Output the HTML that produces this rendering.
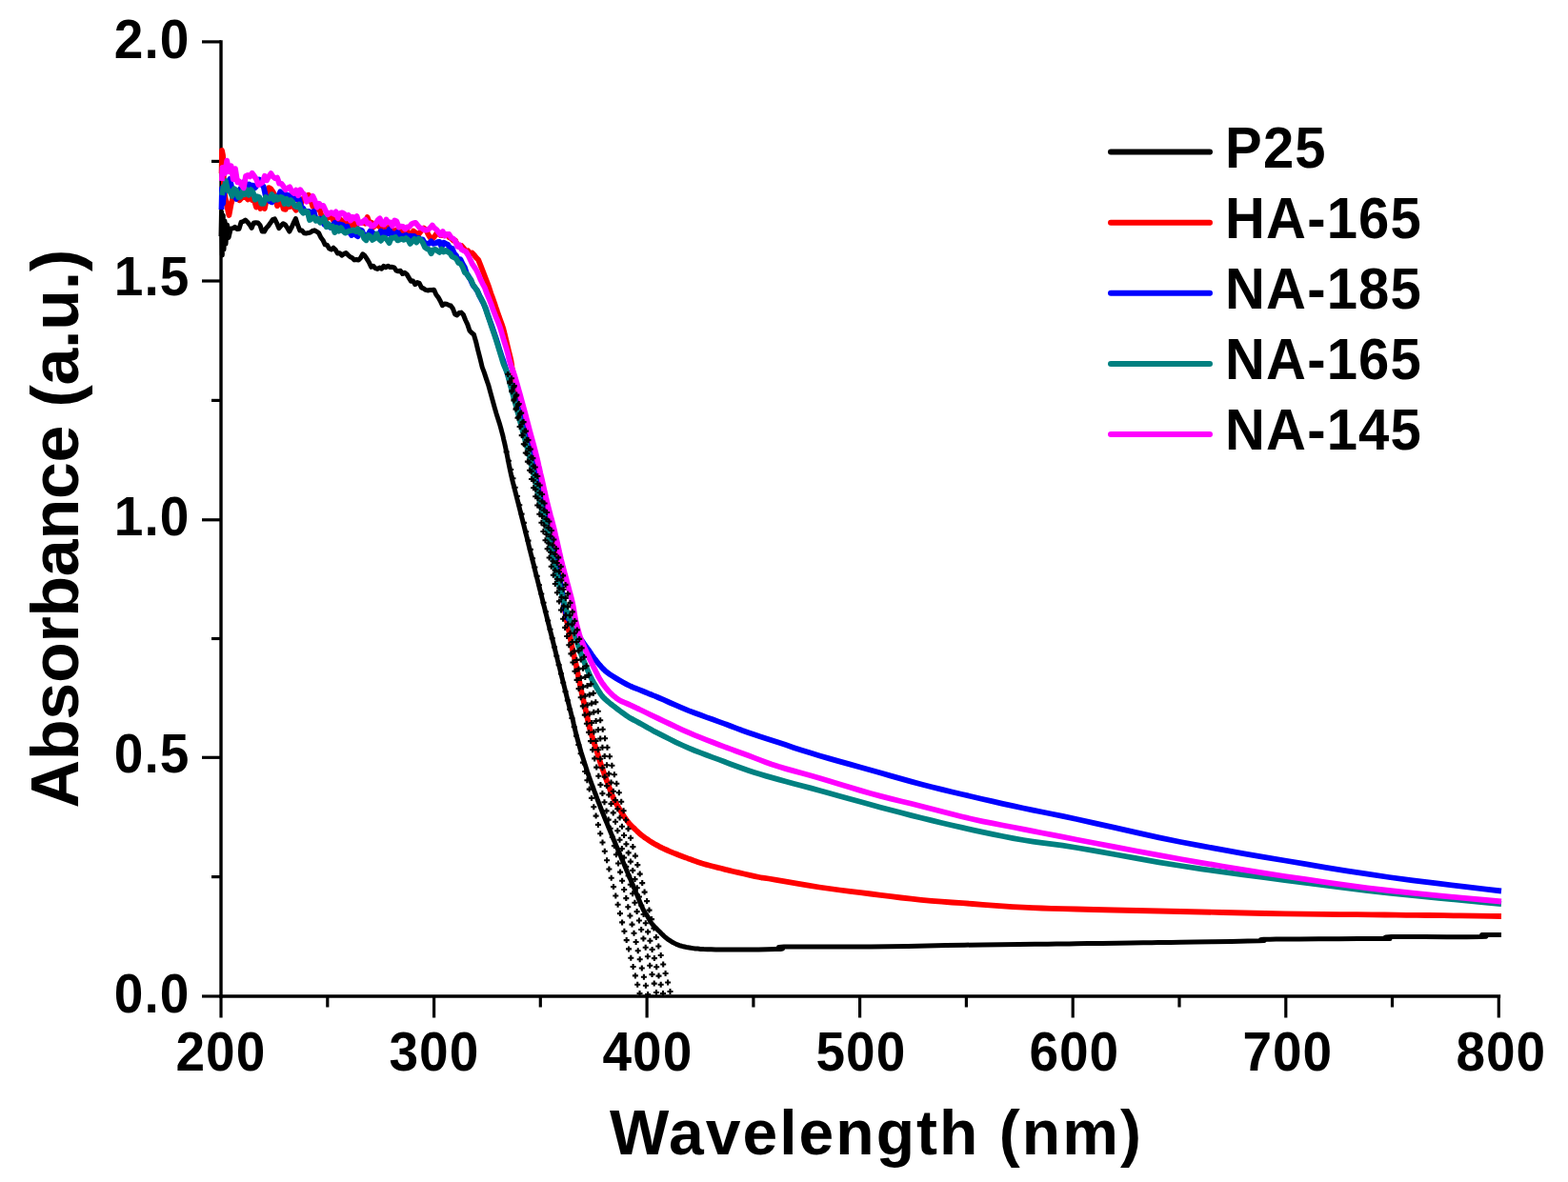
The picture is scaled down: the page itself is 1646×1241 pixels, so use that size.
<!DOCTYPE html>
<html><head><meta charset="utf-8"><title>Absorbance spectra</title>
<style>
html,body{margin:0;padding:0;background:#fff;}
body{width:1646px;height:1241px;overflow:hidden;}
svg{display:block;}
text{font-family:"Liberation Sans",Arial,sans-serif;font-weight:bold;fill:#000;}
.tk{font-size:55px;letter-spacing:1px;}
.lg{font-size:58px;letter-spacing:1.2px;}
.xl{font-size:66px;letter-spacing:2.05px;}
.yl{font-size:70px;letter-spacing:-0.28px;}
</style></head><body>
<svg width="1646" height="1241" viewBox="0 0 1646 1241">
<rect width="1646" height="1241" fill="#ffffff"/>
<line x1="232" y1="42.2" x2="232" y2="1047.7" stroke="#000" stroke-width="3.4"/>
<line x1="230.3" y1="1046" x2="1575.2" y2="1046" stroke="#000" stroke-width="3.4"/>
<line x1="212" y1="1046" x2="232" y2="1046" stroke="#000" stroke-width="3.2"/>
<line x1="212" y1="795.3" x2="232" y2="795.3" stroke="#000" stroke-width="3.2"/>
<line x1="212" y1="545.8" x2="232" y2="545.8" stroke="#000" stroke-width="3.2"/>
<line x1="212" y1="295" x2="232" y2="295" stroke="#000" stroke-width="3.2"/>
<line x1="212" y1="43.9" x2="232" y2="43.9" stroke="#000" stroke-width="3.2"/>
<line x1="222" y1="920.6" x2="232" y2="920.6" stroke="#000" stroke-width="3.2"/>
<line x1="222" y1="670.5" x2="232" y2="670.5" stroke="#000" stroke-width="3.2"/>
<line x1="222" y1="420.4" x2="232" y2="420.4" stroke="#000" stroke-width="3.2"/>
<line x1="222" y1="169.4" x2="232" y2="169.4" stroke="#000" stroke-width="3.2"/>
<line x1="232" y1="1046" x2="232" y2="1068.5" stroke="#000" stroke-width="3.2"/>
<line x1="455.6" y1="1046" x2="455.6" y2="1068.5" stroke="#000" stroke-width="3.2"/>
<line x1="679.1" y1="1046" x2="679.1" y2="1068.5" stroke="#000" stroke-width="3.2"/>
<line x1="902.6" y1="1046" x2="902.6" y2="1068.5" stroke="#000" stroke-width="3.2"/>
<line x1="1126.2" y1="1046" x2="1126.2" y2="1068.5" stroke="#000" stroke-width="3.2"/>
<line x1="1349.8" y1="1046" x2="1349.8" y2="1068.5" stroke="#000" stroke-width="3.2"/>
<line x1="1573.3" y1="1046" x2="1573.3" y2="1068.5" stroke="#000" stroke-width="3.2"/>
<line x1="343.8" y1="1046" x2="343.8" y2="1057.5" stroke="#000" stroke-width="3.2"/>
<line x1="567.3" y1="1046" x2="567.3" y2="1057.5" stroke="#000" stroke-width="3.2"/>
<line x1="790.9" y1="1046" x2="790.9" y2="1057.5" stroke="#000" stroke-width="3.2"/>
<line x1="1014.4" y1="1046" x2="1014.4" y2="1057.5" stroke="#000" stroke-width="3.2"/>
<line x1="1238" y1="1046" x2="1238" y2="1057.5" stroke="#000" stroke-width="3.2"/>
<line x1="1461.5" y1="1046" x2="1461.5" y2="1057.5" stroke="#000" stroke-width="3.2"/>
<polyline fill="none" stroke="#000000" stroke-width="5.0" stroke-linejoin="round" stroke-linecap="butt" points="232,248 232.5,222 233.3,268 234.2,226 235,262 236,232 237,256 238.5,236 240,249.5 242.2,240.1 244.4,239.8 246.6,238.3 248.8,240.6 251,240.2 253.2,233.1 255.4,232.6 257.6,231 259.8,233.2 262,235.8 264.2,239.4 266.4,233.9 268.6,233.7 270.8,234 273,236.4 275.2,242.9 277.4,243.1 279.6,239.4 281.8,237 284,233.8 286.2,230.7 288.4,229.9 290.6,234.3 292.8,239.6 295,237.1 297.2,234.8 299.4,236 301.6,239.2 303.8,243.1 306,238.9 308.2,233.9 310.4,229.6 312.6,236.4 314.8,242 317,242 319.2,244.7 321.4,244.9 323.6,244.6 325.8,244.1 328,242.4 330.2,241.8 332.4,243.2 334.6,244.6 336.8,249.3 339,252.2 341.2,256.8 343.4,257.2 345.6,261 347.8,261.9 350,260.2 352.2,262.3 354.4,266.1 356.6,265.7 358.8,268.1 361,266.6 363.2,265.6 365.4,267.8 367.6,269.7 369.8,270.7 372,272.9 374.2,272.5 376.4,273.1 378.6,270.8 380.8,266.8 383,268.5 385.2,271.9 387.4,275.5 389.6,280.3 391.8,279.2 394,281.7 396.2,282.4 398.4,281 400.6,282.2 402.8,279.4 405,280.8 407.2,279.2 409.4,280.6 411.6,280.3 413.8,280.9 416,284.2 418.2,284.8 420.4,284.3 422.6,287.5 424.8,286.2 427,287.9 429.2,291.6 431.4,295.3 433.6,295 435.8,298.7 438,296.5 440.2,297.4 442.4,301.9 444.6,302.9 446.8,304.3 449,304.9 451.2,304.6 453.4,304.6 455.6,304.3 457.8,309.3 460,312.1 462.2,316 464.4,320.7 466.6,318.9 468.8,319.3 471,320.3 473.2,321 475.4,324 477.6,329.9 479.8,330.9 482,328.5 484.2,328.1 486.4,330.5 488.6,336 490.8,340.6 493,347.2 495.2,349.5 497.4,351.3 499.6,358.7 501.8,367.8 504,376.4 506.2,385.5 508.4,391.4 510.6,398.1 512.8,404.5 515,412.6 517.2,420.6 519.4,428.6 521.1,434.4 522.4,438.4 523.6,442.3 524.8,446.1 525.9,450 526.9,453.8 527.9,457.5 528.7,461.3 529.7,465.4 530.7,470 531.8,475.3 533,481.3 534.2,487.5 535.5,493.7 536.8,499.6 538.1,505.2 539.5,510.7 540.9,516.1 542.3,521.6 543.7,527 545.1,532.6 546.5,538.2 547.9,543.8 549.3,549.2 550.6,554.4 551.8,559.3 553,563.9 554.1,568.4 555.1,572.7 556.2,577 557.2,581.2 558.3,585.3 559.3,589.3 560.3,593.2 561.2,597 562.1,600.6 563,604.2 563.9,607.6 564.7,610.8 565.5,614 566.2,617 566.9,619.7 567.6,622.4 568.3,625.1 569,628 569.8,631.1 570.5,634.2 571.4,637.4 572.2,640.7 573,644 573.9,647.4 574.7,650.9 575.6,654.4 576.5,657.8 577.3,661 578,663.8 578.7,666.4 579.3,668.9 579.9,671.4 580.6,674 581.3,676.8 582,679.6 582.7,682.4 583.4,685.2 584.1,688 584.8,690.7 585.4,693.3 586.1,695.9 586.8,698.4 587.4,701 588,703.4 588.6,705.6 589.1,707.9 589.7,710.5 590.5,713.5 591.4,717.2 592.5,721.5 593.6,725.9 594.7,730.3 595.7,734.3 596.6,737.9 597.5,741.5 598.3,744.7 599.1,747.6 599.7,750 600.1,751.6 600.4,752.4 600.6,753 600.8,753.7 601.1,755 601.6,757 602.1,759.5 602.7,762.1 603.4,764.9 604,767.5 604.6,770 605.3,772.5 605.9,775 606.6,777.5 607.3,780 608,782.5 608.7,785 609.4,787.5 610.1,790 610.9,792.5 611.7,795 612.5,797.5 613.3,800 614.1,802.5 614.9,805 615.7,807.5 616.5,810 617.4,812.5 618.2,815 619.1,817.5 620,820 620.9,822.5 621.8,825 622.8,827.5 623.7,830 624.6,832.5 625.6,835 626.5,837.5 627.4,840 628.4,842.5 629.4,845 630.3,847.5 631.3,850 632.3,852.5 633.3,855 634.3,857.5 635.3,860 636.3,862.5 637.4,865 638.4,867.5 639.4,870 640.5,872.5 641.5,875 642.6,877.5 643.6,880 644.6,882.5 645.7,885 646.7,887.5 647.8,890 648.8,892.5 649.9,895 650.9,897.5 652,900 653,902.5 654.1,905 655.2,907.5 656.2,910 657.3,912.5 658.3,915 659.4,917.5 660.5,920 661.5,922.5 662.6,925 663.6,927.5 664.7,930 665.7,932.5 666.8,935 667.8,937.5 668.9,940 669.9,942.5 671,945.1 672,947.7 673.1,950.4 674.2,952.8 675.2,955 676.2,956.8 677.2,958.4 678.2,959.8 679.1,961.1 680,962.5 680.8,963.9 681.5,965.3 682.3,966.6 683,967.8 683.7,969 684.5,970 685.3,971 686.1,971.8 686.9,972.7 687.7,973.5 688.5,974.3 689.3,975.1 690.1,975.9 690.9,976.7 691.7,977.5 692.5,978.3 693.3,979.1 694.1,979.9 694.9,980.7 695.7,981.5 696.5,982.2 697.2,982.9 697.9,983.6 698.7,984.3 699.6,985 700.6,985.8 701.8,986.6 703,987.4 704.2,988.2 705.5,989 706.8,989.7 708.1,990.4 709.4,991.1 710.7,991.7 712,992.2 713.3,992.7 714.6,993 715.9,993.4 717.2,993.7 718.5,994 719.8,994.3 720.9,994.6 722.2,994.8 723.6,995 725.4,995.3 727.5,995.6 729.9,995.9 732.5,996.1 735.4,996.4 738.7,996.6 742.5,996.7 746.7,996.8 751.2,996.9 755.7,997 760,997 763.8,997 767.1,997.1 770.6,997.1 774.7,997 780,997 787.3,996.9 796.3,996.9 805.7,996.8 814,996.6 820,996.4 821.6,996 819.6,995.5 817.3,994.9 817.4,994.4 823,994 835.4,993.9 852.6,993.9 872.7,994 893.7,994.1 913.8,994 933.2,993.7 953.3,993.4 973.6,992.9 993.5,992.5 1012.7,992.2 1031.8,991.9 1051.2,991.7 1069.8,991.5 1086.4,991.3 1100,991.2 1109,991.1 1114.2,991 1117.9,991 1122.4,990.9 1130,990.8 1141.9,990.6 1156.6,990.4 1172.3,990.2 1187.3,990 1200,989.8 1209.1,989.7 1215.7,989.6 1221.7,989.5 1228.9,989.5 1239,989.3 1254.1,989.1 1272.9,988.8 1292.5,988.4 1309.9,988.1 1322,987.8 1327.2,987.5 1327.5,987.2 1325.4,987 1323.4,986.7 1324,986.5 1326.5,986.3 1329.2,986.2 1333.1,986.2 1339.4,986.1 1349,986 1364.1,985.9 1384.1,985.8 1405.6,985.7 1425.4,985.6 1440,985.5 1448.7,985.5 1453.6,985.6 1456.1,985.6 1457.5,985.6 1459,985.5 1458.9,985.2 1456.4,984.8 1454.1,984.3 1454.6,983.9 1460.5,983.6 1474.8,983.5 1495.7,983.6 1518.8,983.7 1539.7,983.7 1554,983.6 1559.9,983.3 1560.3,982.8 1557.9,982.4 1555.5,981.9 1555.5,981.6 1558.7,981.5 1563.3,981.5 1568.4,981.5 1572.9,981.6 1576,981.6"/>
<polyline fill="none" stroke="#ff0000" stroke-width="5.8" stroke-linejoin="round" stroke-linecap="butt" points="232.6,182 233,158 234,163 234.6,176 235,196 236,205 238.2,216 240.4,226 242.6,214.2 244.8,206 247,207.7 249.2,204.1 251.4,210.3 253.6,207.8 255.8,207 258,206.8 260.2,209.4 262.4,205.2 264.6,210.2 266.8,209.9 269,217.5 271.2,210.7 273.4,219 275.6,214.1 277.8,219 280,208.5 282.2,197.1 284.4,198.3 286.6,201.7 288.8,205.9 291,216.1 293.2,213.4 295.4,210.5 297.6,219.3 299.8,219.8 302,213.2 304.2,217 306.4,215.3 308.6,217.8 310.8,220.7 313,214.7 315.2,217.5 317.4,209.1 319.6,207.5 321.8,210.8 324,204.7 326.2,210.1 328.4,216.8 330.6,218.2 332.8,219.5 335,217.8 337.2,225.5 339.4,229 341.6,230.3 343.8,228.8 346,227.2 348.2,228.2 350.4,232 352.6,232.7 354.8,228.6 357,230.3 359.2,232.1 361.4,233.8 363.6,236.7 365.8,234.6 368,231.1 370.2,237.9 372.4,235 374.6,236 376.8,233.5 379,234.2 381.2,233 383.4,234.6 385.6,228.1 387.8,233.7 390,233.6 392.2,238.4 394.4,234.3 396.6,236.9 398.8,238.3 401,241.1 403.2,237.1 405.4,240.4 407.6,238.9 409.8,239.6 412,241.1 414.2,244.6 416.4,241.5 418.6,245.1 420.8,240.2 423,245.6 425.2,242.5 427.4,242 429.6,246.3 431.8,248 434,242.6 436.2,244.3 438.4,247.6 440.6,244.4 442.8,241.6 445,239.6 447.2,241.1 449.4,245.9 451.6,249.5 453.8,250.5 456,248.5 458.2,245.2 460.4,245.4 462.6,247.2 464.8,246.8 467,246.5 469.2,246 471.4,249.1 473.6,250.3 475.8,252.5 478,252.4 480.2,257.6 482.4,259.3 484.6,258.1 486.8,260.6 489,264.2 491.2,263.3 493.4,266.2 495.6,265.5 497.8,267.7 500,270.7 502.2,272.8 504.4,278.3 506.6,284 508.8,289.7 511,295.6 513.2,301.4 515.4,308.2 517.6,314.1 519.8,320.5 520.4,322.4 521.3,324.9 522.1,327.4 523,330 523.9,332.6 524.9,335.2 525.9,337.9 526.8,340.5 527.7,343.1 528.5,345.7 529.1,348.3 529.8,350.8 530.4,353.4 531,356 531.6,358.6 532.3,361.3 532.9,363.9 533.5,366.5 534.1,368.9 534.6,371.1 535.2,373.2 535.6,375.2 536.1,377.1 536.5,379 536.8,380.9 537.1,382.6 537.3,384.4 537.6,386.2 538,388.2 538.5,390.3 539,392.3 539.6,394.6 540.3,397.1 541,400 541.8,403.6 542.7,407.6 543.7,412 544.6,416.2 545.5,420 546.3,423.4 547,426.5 547.6,429.5 548.3,432.3 549,435 549.7,437.6 550.4,440 551.1,442.3 551.8,444.6 552.5,447 553.2,449.4 553.9,451.8 554.5,454.2 555.2,456.9 556,460 556.8,463.6 557.7,467.5 558.7,471.7 559.6,475.9 560.5,480 561.4,484 562.3,488 563.2,492 564.1,496 565,500 565.9,504 566.8,508 567.7,512 568.6,516 569.5,520 570.4,524 571.3,528 572.2,532 573.1,536 574,540 574.9,544 575.8,548 576.7,552 577.6,556 578.5,560 579.4,564 580.3,568 581.3,572 582.2,576 583,580 583.8,584 584.5,588 585.2,592 585.8,596 586.5,600 587.1,604.1 587.8,608.2 588.4,612.4 588.9,616.3 589.5,620 590,623.3 590.5,626.3 591,629.2 591.5,632 592,635 592.5,638.1 593,641.2 593.6,644.3 594.1,647.4 594.7,650.5 595.3,653.6 596,656.7 596.7,659.8 597.3,662.9 598,666 598.6,669.2 599.2,672.4 599.8,675.6 600.4,678.8 601,681.9 601.7,685 602.4,687.9 603.1,690.9 603.8,693.9 604.5,697 605.2,700.2 605.8,703.5 606.5,706.8 607.1,710.1 607.8,713.3 608.4,716.5 609.1,719.6 609.7,722.7 610.3,725.9 611,729 611.7,732.1 612.4,735.1 613.1,738.1 613.8,741.3 614.6,744.8 615.5,748.8 616.4,753.2 617.4,757.7 618.4,762 619.3,765.7 620.1,768.8 620.9,771.4 621.6,773.7 622.3,775.9 623,778 623.6,779.9 624.2,781.6 624.8,783.3 625.3,785 626,787 626.7,789.2 627.4,791.6 628.1,794.1 629,796.9 630,800 631.2,803.6 632.6,807.6 634.1,811.9 635.6,816.1 637,820 638.4,823.7 639.7,827.4 641.1,830.9 642.4,834.2 643.7,837.3 644.9,840 646.1,842.3 647.3,844.5 648.6,846.6 650,849 651.6,851.6 653.3,854.4 655.1,857.2 656.9,859.9 658.7,862.3 660.4,864.4 662.1,866.2 663.7,867.9 665.4,869.4 667,871 668.6,872.5 670,873.9 671.5,875.2 673.1,876.6 675,878 677.1,879.6 679.5,881.2 681.9,882.9 684.5,884.5 687,886 689.6,887.4 692.2,888.8 694.8,890.1 697.4,891.3 700,892.5 702.4,893.6 704.8,894.6 707.2,895.6 709.6,896.5 712,897.5 714.6,898.5 717.2,899.5 719.8,900.4 722.4,901.4 725,902.3 727.4,903.2 729.8,904.1 732.2,904.9 734.6,905.7 737,906.5 739.4,907.2 741.8,907.9 744.2,908.5 746.9,909.2 750,910 753.4,910.9 757.2,911.8 761.2,912.9 765.4,913.9 770,915 775.2,916.2 781.1,917.5 787.1,918.9 792.6,920.1 797,921 799.4,921.5 800.2,921.6 800.7,921.6 802.5,921.8 807,922.5 814.8,923.9 825.1,925.7 836.7,927.7 848.6,929.7 860,931.5 870.8,933 881.6,934.5 892.4,935.8 903.2,937.2 914,938.5 924.6,939.8 935.2,941.2 945.8,942.5 956.4,943.7 967,944.8 977.8,945.8 988.6,946.7 999.4,947.5 1010.2,948.2 1021,949 1031.6,949.8 1042.1,950.6 1052.6,951.4 1063.2,952.1 1074,952.7 1084.2,953.2 1093.6,953.5 1103.6,953.8 1115.4,954.1 1130,954.5 1148.4,955 1169.7,955.5 1192.8,956 1216.3,956.5 1239,957 1261.2,957.5 1283.8,958 1306.3,958.5 1328.2,959 1349,959.4 1368.9,959.7 1388.3,959.9 1406.7,960.1 1424.1,960.2 1440,960.4 1453.7,960.5 1465.5,960.6 1476.3,960.8 1487.5,960.9 1500,961 1515.4,961.2 1532.9,961.4 1550.3,961.7 1565.4,961.9 1576,962"/>
<polyline fill="none" stroke="#0000ff" stroke-width="5.8" stroke-linejoin="round" stroke-linecap="butt" points="232.5,220 233,198 234,214 235.5,200 237,192.6 239.2,192.2 241.4,187.8 243.6,198.9 245.8,202.4 248,208.9 250.2,203 252.4,198 254.6,200.8 256.8,190.3 259,197.6 261.2,193.4 263.4,194.5 265.6,194.6 267.8,197.1 270,194.4 272.2,188.4 274.4,193.7 276.6,195.7 278.8,205.5 281,208.2 283.2,211.4 285.4,212.4 287.6,209.6 289.8,209.7 292,206.6 294.2,201.3 296.4,206.1 298.6,202.5 300.8,204.9 303,205 305.2,205.5 307.4,206.7 309.6,209 311.8,209.4 314,209 316.2,217 318.4,219 320.6,222.8 322.8,221.8 325,222.1 327.2,225.3 329.4,221.8 331.6,229.7 333.8,230.1 336,229.5 338.2,231.5 340.4,235.8 342.6,234.8 344.8,237.2 347,238.9 349.2,236.5 351.4,233.7 353.6,237 355.8,235.3 358,235.8 360.2,236.5 362.4,239.1 364.6,237.7 366.8,243.5 369,247 371.2,243.4 373.4,246.6 375.6,248.3 377.8,241.3 380,242.2 382.2,247.3 384.4,247.5 386.6,245.9 388.8,242.2 391,243.9 393.2,247 395.4,246.9 397.6,246.5 399.8,242.5 402,247.6 404.2,243.5 406.4,245.3 408.6,240.7 410.8,247.1 413,245.2 415.2,246.6 417.4,243.7 419.6,247.1 421.8,247.5 424,247.9 426.2,246.7 428.4,249.4 430.6,247.6 432.8,248 435,247.9 437.2,252.3 439.4,249.9 441.6,251.6 443.8,251.5 446,255.9 448.2,255.7 450.4,255.9 452.6,253.3 454.8,255.8 457,255.4 459.2,254.2 461.4,253.8 463.6,259.4 465.8,254.7 468,255.8 470.2,256.9 472.4,260.9 474.6,260.7 476.8,266 479,268.5 481.2,273.5 483.4,272.3 485.6,276.9 487.8,280.7 490,287.3 492.2,290.5 494.4,294.7 496.6,299.4 498.8,302.1 501,305.2 503.2,310 505.4,314.6 507.6,318.6 509.8,323.5 512,330.2 514.2,336.5 516.4,342.6 518.6,349 520.1,353.4 521,356 521.8,358.6 522.6,361.2 523.4,363.9 524.2,366.5 525,369 525.8,371.4 526.6,373.8 527.4,376.1 528.2,378.5 529,381 529.9,383.6 530.7,386.1 531.6,388.8 532.6,391.6 533.5,394.6 534.5,397.8 535.4,401.2 536.4,404.7 537.4,408.4 538.5,412 539.6,415.7 540.9,419.4 542.1,423.2 543.3,427 544.5,431 545.6,435.1 546.7,439.3 547.8,443.6 548.9,447.8 550,452 551.1,456.1 552.2,460.1 553.3,464.1 554.4,468.1 555.5,472.2 556.5,476.3 557.6,480.5 558.6,484.7 559.5,488.9 560.5,493 561.4,497.1 562.3,501.1 563.2,505.2 564.1,509.2 565,513.3 566,517.4 567,521.6 568,525.7 569,529.9 570,534 571,538.1 572,542.3 573.1,546.4 574.1,550.4 575,554.4 575.9,558.2 576.7,562 577.4,565.7 578.2,569.3 579,573 579.8,576.6 580.5,580.1 581.3,583.6 582.1,587.2 583,591 584,595 585.1,599.2 586.3,603.5 587.3,607.8 588.3,612 589.1,616.2 589.8,620.5 590.4,624.7 591,628.6 591.6,632.2 592.2,635.3 592.7,638.1 593.3,640.6 593.9,642.9 594.5,645 595.2,646.9 596,648.6 596.9,650.2 597.7,651.6 598.5,653 599.2,654.3 599.9,655.6 600.6,656.8 601.3,657.9 602,659 602.7,660 603.3,660.9 604,661.8 604.7,662.8 605.5,664 606.5,665.5 607.5,667.3 608.6,669.2 609.8,671.1 611,673 612.3,674.8 613.6,676.6 614.9,678.5 616.2,680.3 617.5,682 618.7,683.7 619.8,685.3 620.8,686.9 621.9,688.5 623,690 624.1,691.5 625.2,692.9 626.3,694.3 627.4,695.7 628.5,697 629.6,698.3 630.7,699.5 631.7,700.7 632.8,701.9 634,703 635,704 635.9,704.8 636.9,705.7 638.3,706.7 640.3,708.1 643.1,709.9 646.5,712 650.3,714.3 654.2,716.5 658.1,718.6 662,720.5 666.2,722.3 670.4,723.9 674.4,725.5 678,727 680.8,728.2 683,729 685,729.9 687.7,730.9 691.4,732.5 696.5,734.7 702.7,737.5 709.4,740.4 716.3,743.4 722.9,746.1 729.2,748.5 735.5,750.8 741.7,753.1 748,755.3 754.3,757.6 760.6,759.9 766.9,762.3 773.1,764.6 779.4,767 785.7,769.2 791.8,771.3 797.7,773.3 803.8,775.2 810.1,777.3 817.2,779.6 824.9,782.1 833.1,784.9 841.8,787.7 850.9,790.6 860.4,793.5 870.4,796.4 881,799.4 891.9,802.4 903,805.5 913.8,808.5 924.5,811.5 935.2,814.6 945.9,817.6 956.6,820.6 967.3,823.5 978,826.2 988.7,828.9 999.4,831.5 1010.1,834 1020.8,836.5 1031.4,839 1042.1,841.4 1052.7,843.8 1063.4,846.1 1074.2,848.5 1084.4,850.6 1093.8,852.5 1103.7,854.5 1115.4,856.9 1130,860 1148.4,864.1 1169.9,868.9 1193,874.1 1216.6,879.3 1239.3,884 1261.2,888.2 1283.1,892.2 1304.9,896.1 1326.8,899.8 1348.7,903.5 1370.4,907.2 1392,910.8 1413.7,914.3 1435.6,917.7 1458,921 1482.9,924.3 1510.2,927.7 1536.9,930.9 1559.8,933.6 1576,935.5"/>
<polyline fill="none" stroke="#008080" stroke-width="5.8" stroke-linejoin="round" stroke-linecap="butt" points="233,205 234.5,196 236.1,195 237,190.2 239.2,200.2 241.4,200.8 243.6,205.9 245.8,198.1 248,199.6 250.2,207.2 252.4,206.9 254.6,200.3 256.8,204.2 259,199.1 261.2,204.7 263.4,199.1 265.6,201.8 267.8,209.6 270,206.3 272.2,207 274.4,213.9 276.6,213.8 278.8,207.1 281,208.9 283.2,208.6 285.4,204.1 287.6,210.1 289.8,206.5 292,209.5 294.2,206.9 296.4,207.3 298.6,214.1 300.8,208.8 303,214.3 305.2,210 307.4,212.4 309.6,216.5 311.8,217.4 314,214.6 316.2,221.3 318.4,223.7 320.6,221.6 322.8,222.4 325,231 327.2,229.5 329.4,228.1 331.6,231.8 333.8,229.8 336,233.7 338.2,231.5 340.4,228.3 342.6,238.2 344.8,235.1 347,238.7 349.2,237.6 351.4,244 353.6,238.8 355.8,242.6 358,239.1 360.2,242.6 362.4,244.6 364.6,243.4 366.8,242.3 369,242.1 371.2,241.3 373.4,243.1 375.6,240.4 377.8,244.7 380,244.2 382.2,250.4 384.4,252.3 386.6,246.9 388.8,248.3 391,251.9 393.2,250.3 395.4,245.5 397.6,250.6 399.8,252.8 402,249.4 404.2,249.6 406.4,251.8 408.6,255.1 410.8,249.9 413,249.8 415.2,249 417.4,252.4 419.6,251.6 421.8,250.6 424,251.9 426.2,250 428.4,251.7 430.6,256 432.8,253.4 435,250.9 437.2,254.5 439.4,250.5 441.6,251.6 443.8,254.7 446,259.6 448.2,261.2 450.4,261.9 452.6,266.2 454.8,262.4 457,261.8 459.2,263.4 461.4,264.9 463.6,261.6 465.8,264.4 468,262.9 470.2,264.6 472.4,265.9 474.6,269.3 476.8,270.3 479,271.7 481.2,276 483.4,276.7 485.6,280.3 487.8,286 490,287.5 492.2,291.4 494.4,293.5 496.6,299.2 498.8,302.2 501,305.2 503.2,310.7 505.4,313.9 507.6,318.5 509.8,324.6 512,331 514.2,337.4 516.4,344.1 518.6,350.3 520.5,356 521.3,358.6 522.1,361.2 522.9,363.7 523.7,366.3 524.5,368.9 525.3,371.6 526.1,374.3 526.9,377 527.7,379.6 528.5,382 529.3,384.1 530.1,385.8 530.8,387.5 531.6,389.5 532.5,392 533.4,395.2 534.4,398.9 535.4,402.9 536.5,407 537.5,411 538.6,414.9 539.7,418.9 540.8,422.9 541.9,426.9 543,431 544.1,435.1 545.2,439.4 546.3,443.6 547.4,447.8 548.5,452 549.6,456.1 550.7,460.1 551.8,464.1 552.9,468.1 554,472.2 555,476.3 556.1,480.5 557.1,484.7 558,488.9 559,493 559.9,497.1 560.9,501.1 561.8,505.2 562.7,509.2 563.6,513.3 564.6,517.5 565.5,521.7 566.5,525.9 567.5,530 568.5,534 569.5,537.7 570.6,541.3 571.6,544.8 572.7,548.3 573.6,552 574.5,555.9 575.2,559.9 576,564 576.7,568 577.5,572 578.3,575.8 579.1,579.6 579.9,583.3 580.7,587.1 581.6,591 582.5,595.1 583.5,599.3 584.5,603.6 585.5,607.8 586.5,612 587.6,616.3 588.7,620.6 589.9,624.9 591,628.8 591.9,632.2 592.7,634.8 593.3,636.9 593.8,638.7 594.4,640.3 595,642 595.6,643.7 596.3,645.2 596.9,646.7 597.6,648.4 598.4,650.5 599.3,653.1 600.3,656.2 601.4,659.4 602.5,662.8 603.5,666 604.5,669.2 605.4,672.3 606.3,675.5 607.3,678.7 608.3,681.9 609.4,685.1 610.6,688.4 611.9,691.6 613.2,694.8 614.5,698 615.8,701.1 617.1,704.2 618.4,707.2 619.8,710.2 621.4,713.3 623.2,716.6 625.2,720 627.2,723.4 629.1,726.5 630.9,729.1 632.3,731 633.5,732.4 634.7,733.5 635.9,734.6 637.5,736 639.4,737.6 641.6,739.4 644,741.2 646.4,743.1 648.7,744.8 650.9,746.5 653.1,748.1 655.3,749.7 657.6,751.3 660,752.9 662.5,754.4 665.2,755.9 667.9,757.3 670.8,758.9 673.8,760.5 676.9,762.2 679.9,764 683.2,765.8 686.9,767.9 691.4,770.2 696.8,772.9 703,776 709.6,779.3 716.4,782.5 722.9,785.4 729.2,788 735.5,790.4 741.7,792.8 748,795.1 754.3,797.4 760.6,799.8 766.9,802.2 773.1,804.5 779.4,806.8 785.7,809 791.8,811 797.7,812.8 803.8,814.6 810.1,816.4 817.2,818.4 824.9,820.5 833.1,822.7 841.8,825 850.9,827.4 860.4,830 870.4,832.8 881,835.7 891.9,838.8 903,841.8 913.8,844.8 924.5,847.7 935.2,850.5 945.9,853.3 956.6,856.1 967.3,858.8 978,861.4 988.7,864 999.4,866.5 1010.1,868.9 1020.8,871.3 1031.4,873.6 1042.1,875.8 1052.7,878 1063.4,880.1 1074.2,882 1084.4,883.6 1093.8,884.9 1103.7,886.1 1115.4,887.7 1130,890 1148.4,893.2 1169.9,897 1193,901.2 1216.6,905.3 1239.3,909 1261.2,912.3 1283.1,915.4 1304.9,918.3 1326.8,921.2 1348.7,924 1370.4,926.8 1392,929.6 1413.7,932.3 1435.6,935 1458,937.5 1482.9,940.1 1510.2,942.8 1536.9,945.3 1559.8,947.5 1576,949"/>
<polyline fill="none" stroke="#ff00ff" stroke-width="5.8" stroke-linejoin="round" stroke-linecap="butt" points="232.8,190 233.5,176 235.3,176 236,182.2 238.2,168.6 240.4,180.1 242.6,174.3 244.8,188.2 247,177.1 249.2,191.4 251.4,190.5 253.6,194.3 255.8,197.3 258,185 260.2,184 262.4,185.4 264.6,181.7 266.8,184.8 269,188 271.2,194.1 273.4,192.7 275.6,191.4 277.8,184.8 280,189.3 282.2,185.1 284.4,182.1 286.6,185.5 288.8,187.2 291,186.4 293.2,192.7 295.4,192.8 297.6,195.8 299.8,199.3 302,197.6 304.2,196.4 306.4,201.1 308.6,202.9 310.8,199.6 313,205.2 315.2,199.2 317.4,202.5 319.6,204.2 321.8,211.7 324,209.3 326.2,209.6 328.4,205.9 330.6,210.8 332.8,217.7 335,213.7 337.2,216.4 339.4,215.9 341.6,220.7 343.8,225.3 346,223.8 348.2,223.1 350.4,224.7 352.6,222.4 354.8,229 357,224 359.2,223.3 361.4,224.5 363.6,229.4 365.8,225.9 368,231.6 370.2,227.7 372.4,229.3 374.6,227 376.8,234.3 379,234.2 381.2,232.5 383.4,230.6 385.6,234.5 387.8,234.5 390,237.5 392.2,237.1 394.4,234.8 396.6,231.2 398.8,229.3 401,235.4 403.2,235.9 405.4,230.5 407.6,233.3 409.8,233.5 412,237.3 414.2,231.5 416.4,232.5 418.6,238.6 420.8,237.7 423,237.9 425.2,240.5 427.4,238.5 429.6,238.4 431.8,235.4 434,234.3 436.2,233.8 438.4,236.5 440.6,239.2 442.8,239.5 445,241.1 447.2,241.6 449.4,241 451.6,239.3 453.8,236.5 456,239.4 458.2,241 460.4,244 462.6,246.8 464.8,243.1 467,247.7 469.2,246 471.4,246 473.6,249.6 475.8,250.6 478,253.2 480.2,258.7 482.4,257.3 484.6,261.9 486.8,263.1 489,264.2 491.2,267.6 493.4,272.1 495.6,276.8 497.8,280.2 500,283.5 502.2,287.9 504.4,293.4 506.6,297.8 508.8,301.8 511,308 513.2,313.2 515.4,318.8 517.6,325 519.8,330.7 520.5,332.6 521.6,335.2 522.7,337.9 523.7,340.5 524.7,343.1 525.5,345.7 526.3,348.3 527,350.8 527.8,353.4 528.5,356 529.3,358.6 530.1,361.2 530.9,363.7 531.7,366.3 532.4,368.9 533.1,371.6 533.8,374.3 534.4,377 535.1,379.6 535.8,382 536.5,384.1 537.1,385.8 537.8,387.5 538.5,389.5 539.4,392 540.4,395.2 541.5,398.9 542.7,402.9 543.9,407 545,411 546.1,414.9 547.2,418.9 548.3,422.9 549.4,426.9 550.5,431 551.6,435.1 552.7,439.4 553.8,443.6 554.9,447.8 556,452 557.1,456.1 558.2,460.1 559.3,464.1 560.4,468.1 561.5,472.2 562.5,476.3 563.6,480.5 564.6,484.7 565.5,488.9 566.5,493 567.4,497.1 568.4,501.1 569.3,505.2 570.2,509.2 571.1,513.3 572.1,517.5 573,521.7 574,525.9 575,530 576,534 577,537.7 577.9,541.3 578.9,544.8 579.8,548.3 580.8,552 581.8,555.9 582.7,559.9 583.6,564 584.6,568 585.5,572 586.4,575.8 587.2,579.6 588.1,583.3 588.9,587.1 589.9,591 590.9,595.1 592.1,599.3 593.2,603.6 594.4,607.8 595.5,612 596.6,616.1 597.7,620.2 598.8,624.3 599.9,628.3 600.8,632.2 601.6,636.1 602.3,640 602.9,643.8 603.5,647.3 604.1,650.5 604.7,653.3 605.3,655.7 605.9,657.9 606.4,659.9 607,662 607.6,664 608.1,665.9 608.6,667.7 609.2,669.5 609.9,671.4 610.7,673.4 611.6,675.6 612.6,677.7 613.5,679.9 614.5,682 615.4,684.1 616.4,686.2 617.3,688.2 618.3,690.3 619.3,692.4 620.3,694.5 621.3,696.6 622.4,698.8 623.4,700.9 624.5,703 625.5,705.1 626.6,707.2 627.6,709.3 628.7,711.4 629.8,713.3 630.9,715.1 632,716.8 633.1,718.4 634.3,719.9 635.5,721.5 636.8,723.1 638.1,724.7 639.5,726.2 641,727.7 642.4,729.1 643.8,730.4 645.3,731.6 646.8,732.8 648.3,733.9 650,735 651.8,736 653.6,736.8 655.6,737.6 657.7,738.5 660,739.5 662.5,740.6 665.1,741.9 667.8,743.2 670.7,744.5 673.8,746 676.9,747.5 679.9,749 683.2,750.6 686.9,752.4 691.4,754.5 696.8,757.1 703,760 709.6,763.2 716.4,766.3 722.9,769.2 729.2,771.9 735.5,774.4 741.7,776.9 748,779.3 754.3,781.7 760.6,784.1 766.9,786.4 773.1,788.7 779.4,791 785.7,793.3 791.8,795.6 797.7,797.9 803.8,800.2 810.1,802.5 817.2,804.8 824.9,807.1 833.1,809.4 841.8,811.8 850.9,814.3 860.4,817 870.4,820 881,823.2 891.9,826.6 903,829.9 913.8,833 924.5,835.9 935.2,838.6 945.9,841.2 956.6,843.8 967.3,846.5 978,849.2 988.7,852 999.4,854.8 1010.1,857.5 1020.8,860 1031.4,862.3 1042.1,864.4 1052.7,866.5 1063.4,868.5 1074.2,870.6 1084.4,872.6 1093.8,874.5 1103.7,876.4 1115.4,878.7 1130,881.5 1148.4,885 1169.9,889.1 1193,893.5 1216.6,897.9 1239.3,902 1261.2,905.8 1283.1,909.5 1304.9,913.1 1326.8,916.6 1348.7,920 1370.4,923.2 1392,926.4 1413.7,929.4 1435.6,932.3 1458,935 1482.9,937.7 1510.2,940.4 1536.9,942.9 1559.8,945 1576,946.5"/>
<path d="M668.5 1043h6M671.5 1040v6M666.2 1033.7h6M669.2 1030.7v6M663.9 1024.4h6M666.9 1021.4v6M661.6 1015h6M664.6 1012v6M659.3 1005.7h6M662.3 1002.7v6M657 996.4h6M660 993.4v6M654.7 987.1h6M657.7 984.1v6M652.4 977.7h6M655.4 974.7v6M650.1 968.4h6M653.1 965.4v6M647.9 959.1h6M650.9 956.1v6M645.6 949.8h6M648.6 946.8v6M643.3 940.5h6M646.3 937.5v6M641 931.1h6M644 928.1v6M638.7 921.8h6M641.7 918.8v6M636.4 912.5h6M639.4 909.5v6M634.1 903.2h6M637.1 900.2v6M631.8 893.8h6M634.8 890.8v6M629.5 884.5h6M632.5 881.5v6M627.2 875.2h6M630.2 872.2v6M624.9 865.9h6M627.9 862.9v6M622.6 856.6h6M625.6 853.6v6M620.3 847.2h6M623.3 844.2v6M618 837.9h6M621 834.9v6M615.7 828.6h6M618.7 825.6v6M613.4 819.3h6M616.4 816.3v6M611.2 810h6M614.2 807v6M608.9 800.6h6M611.9 797.6v6M606.6 791.3h6M609.6 788.3v6M604.3 782h6M607.3 779v6M602 772.7h6M605 769.7v6M599.7 763.3h6M602.7 760.3v6M597.4 754h6M600.4 751v6M595.1 744.7h6M598.1 741.7v6M592.8 735.4h6M595.8 732.4v6M590.5 726.1h6M593.5 723.1v6M588.2 716.7h6M591.2 713.7v6M585.9 707.4h6M588.9 704.4v6M583.6 698.1h6M586.6 695.1v6M581.3 688.8h6M584.3 685.8v6M579 679.4h6M582 676.4v6M576.7 670.1h6M579.7 667.1v6M574.5 660.8h6M577.5 657.8v6M572.2 651.5h6M575.2 648.5v6M569.9 642.2h6M572.9 639.2v6M567.6 632.8h6M570.6 629.8v6M565.3 623.5h6M568.3 620.5v6M563 614.2h6M566 611.2v6M560.7 604.9h6M563.7 601.9v6M558.4 595.5h6M561.4 592.5v6M556.1 586.2h6M559.1 583.2v6M553.8 576.9h6M556.8 573.9v6M551.5 567.6h6M554.5 564.6v6M549.2 558.3h6M552.2 555.3v6M546.9 548.9h6M549.9 545.9v6M544.6 539.6h6M547.6 536.6v6M542.3 530.3h6M545.3 527.3v6M540 521h6M543 518v6M537.7 511.7h6M540.7 508.7v6M535.5 502.3h6M538.5 499.3v6M533.2 493h6M536.2 490v6M530.9 483.7h6M533.9 480.7v6M528.6 474.4h6M531.6 471.4v6M677 1044h6M680 1041v6M674.9 1034.8h6M677.9 1031.8v6M672.9 1025.7h6M675.9 1022.7v6M670.8 1016.5h6M673.8 1013.5v6M668.7 1007.3h6M671.7 1004.3v6M666.7 998.2h6M669.7 995.2v6M664.6 989h6M667.6 986v6M662.5 979.8h6M665.5 976.8v6M660.5 970.6h6M663.5 967.6v6M658.4 961.5h6M661.4 958.5v6M656.3 952.3h6M659.3 949.3v6M654.3 943.1h6M657.3 940.1v6M652.2 934h6M655.2 931v6M650.1 924.8h6M653.1 921.8v6M648.1 915.6h6M651.1 912.6v6M646 906.5h6M649 903.5v6M643.9 897.3h6M646.9 894.3v6M641.9 888.1h6M644.9 885.1v6M639.8 878.9h6M642.8 875.9v6M637.7 869.8h6M640.7 866.8v6M635.7 860.6h6M638.7 857.6v6M633.6 851.4h6M636.6 848.4v6M631.5 842.3h6M634.5 839.3v6M629.4 833.1h6M632.4 830.1v6M627.4 823.9h6M630.4 820.9v6M625.3 814.8h6M628.3 811.8v6M623.2 805.6h6M626.2 802.6v6M621.2 796.4h6M624.2 793.4v6M619.1 787.2h6M622.1 784.2v6M617 778.1h6M620 775.1v6M615 768.9h6M618 765.9v6M612.9 759.7h6M615.9 756.7v6M610.8 750.6h6M613.8 747.6v6M608.8 741.4h6M611.8 738.4v6M606.7 732.2h6M609.7 729.2v6M604.6 723.1h6M607.6 720.1v6M602.6 713.9h6M605.6 710.9v6M600.5 704.7h6M603.5 701.7v6M598.4 695.5h6M601.4 692.5v6M596.4 686.4h6M599.4 683.4v6M594.3 677.2h6M597.3 674.2v6M592.2 668h6M595.2 665v6M590.2 658.9h6M593.2 655.9v6M588.1 649.7h6M591.1 646.7v6M586 640.5h6M589 637.5v6M584 631.4h6M587 628.4v6M581.9 622.2h6M584.9 619.2v6M579.8 613h6M582.8 610v6M577.8 603.8h6M580.8 600.8v6M575.7 594.7h6M578.7 591.7v6M573.6 585.5h6M576.6 582.5v6M571.6 576.3h6M574.6 573.3v6M569.5 567.2h6M572.5 564.2v6M567.4 558h6M570.4 555v6M565.4 548.8h6M568.4 545.8v6M563.3 539.7h6M566.3 536.7v6M561.2 530.5h6M564.2 527.5v6M559.2 521.3h6M562.2 518.3v6M557.1 512.2h6M560.1 509.2v6M555 503h6M558 500v6M553 493.8h6M556 490.8v6M550.9 484.6h6M553.9 481.6v6M548.8 475.5h6M551.8 472.5v6M546.8 466.3h6M549.8 463.3v6M544.7 457.1h6M547.7 454.1v6M542.6 448h6M545.6 445v6M540.5 438.8h6M543.5 435.8v6M538.5 429.6h6M541.5 426.6v6M536.4 420.5h6M539.4 417.5v6M534.3 411.3h6M537.3 408.3v6M532.3 402.1h6M535.3 399.1v6M530.2 392.9h6M533.2 389.9v6M686 1042h6M689 1039v6M683.7 1032.6h6M686.7 1029.6v6M681.5 1023.1h6M684.5 1020.1v6M679.2 1013.7h6M682.2 1010.7v6M676.9 1004.3h6M679.9 1001.3v6M674.7 994.8h6M677.7 991.8v6M672.4 985.4h6M675.4 982.4v6M670.2 976h6M673.2 973v6M667.9 966.5h6M670.9 963.5v6M665.6 957.1h6M668.6 954.1v6M663.4 947.7h6M666.4 944.7v6M661.1 938.2h6M664.1 935.2v6M658.8 928.8h6M661.8 925.8v6M656.6 919.4h6M659.6 916.4v6M654.3 909.9h6M657.3 906.9v6M652.1 900.5h6M655.1 897.5v6M649.8 891.1h6M652.8 888.1v6M647.5 881.7h6M650.5 878.7v6M645.3 872.2h6M648.3 869.2v6M643 862.8h6M646 859.8v6M640.7 853.4h6M643.7 850.4v6M638.5 843.9h6M641.5 840.9v6M636.2 834.5h6M639.2 831.5v6M633.9 825.1h6M636.9 822.1v6M631.7 815.6h6M634.7 812.6v6M629.4 806.2h6M632.4 803.2v6M627.2 796.8h6M630.2 793.8v6M624.9 787.3h6M627.9 784.3v6M622.6 777.9h6M625.6 774.9v6M620.4 768.5h6M623.4 765.5v6M618.1 759h6M621.1 756v6M615.8 749.6h6M618.8 746.6v6M613.6 740.2h6M616.6 737.2v6M611.3 730.7h6M614.3 727.7v6M609.1 721.3h6M612.1 718.3v6M606.8 711.9h6M609.8 708.9v6M604.5 702.4h6M607.5 699.4v6M602.3 693h6M605.3 690v6M600 683.6h6M603 680.6v6M597.7 674.1h6M600.7 671.1v6M595.5 664.7h6M598.5 661.7v6M593.2 655.3h6M596.2 652.3v6M590.9 645.8h6M593.9 642.8v6M588.7 636.4h6M591.7 633.4v6M586.4 627h6M589.4 624v6M584.2 617.5h6M587.2 614.5v6M581.9 608.1h6M584.9 605.1v6M579.6 598.7h6M582.6 595.7v6M577.4 589.3h6M580.4 586.3v6M575.1 579.8h6M578.1 576.8v6M572.8 570.4h6M575.8 567.4v6M570.6 561h6M573.6 558v6M568.3 551.5h6M571.3 548.5v6M566.1 542.1h6M569.1 539.1v6M563.8 532.7h6M566.8 529.7v6M561.5 523.2h6M564.5 520.2v6M559.3 513.8h6M562.3 510.8v6M557 504.4h6M560 501.4v6M554.7 494.9h6M557.7 491.9v6M552.5 485.5h6M555.5 482.5v6M550.2 476.1h6M553.2 473.1v6M547.9 466.6h6M550.9 463.6v6M545.7 457.2h6M548.7 454.2v6M543.4 447.8h6M546.4 444.8v6M541.2 438.3h6M544.2 435.3v6M538.9 428.9h6M541.9 425.9v6M536.6 419.5h6M539.6 416.5v6M534.4 410h6M537.4 407v6M532.1 400.6h6M535.1 397.6v6M693 1043h6M696 1040v6M690.7 1033.8h6M693.7 1030.8v6M688.5 1024.6h6M691.5 1021.6v6M686.2 1015.3h6M689.2 1012.3v6M683.9 1006.1h6M686.9 1003.1v6M681.6 996.9h6M684.6 993.9v6M679.4 987.7h6M682.4 984.7v6M677.1 978.4h6M680.1 975.4v6M674.8 969.2h6M677.8 966.2v6M672.6 960h6M675.6 957v6M670.3 950.8h6M673.3 947.8v6M668 941.5h6M671 938.5v6M665.8 932.3h6M668.8 929.3v6M663.5 923.1h6M666.5 920.1v6M661.2 913.9h6M664.2 910.9v6M658.9 904.6h6M661.9 901.6v6M656.7 895.4h6M659.7 892.4v6M654.4 886.2h6M657.4 883.2v6M652.1 877h6M655.1 874v6M649.9 867.7h6M652.9 864.7v6M647.6 858.5h6M650.6 855.5v6M645.3 849.3h6M648.3 846.3v6M643 840.1h6M646 837.1v6M640.8 830.8h6M643.8 827.8v6M638.5 821.6h6M641.5 818.6v6M636.2 812.4h6M639.2 809.4v6M634 803.2h6M637 800.2v6M631.7 793.9h6M634.7 790.9v6M629.4 784.7h6M632.4 781.7v6M627.2 775.5h6M630.2 772.5v6M624.9 766.3h6M627.9 763.3v6M622.6 757h6M625.6 754v6M620.3 747.8h6M623.3 744.8v6M618.1 738.6h6M621.1 735.6v6M615.8 729.4h6M618.8 726.4v6M613.5 720.1h6M616.5 717.1v6M611.3 710.9h6M614.3 707.9v6M609 701.7h6M612 698.7v6M606.7 692.5h6M609.7 689.5v6M604.4 683.2h6M607.4 680.2v6M602.2 674h6M605.2 671v6M599.9 664.8h6M602.9 661.8v6M597.6 655.6h6M600.6 652.6v6M595.4 646.3h6M598.4 643.3v6M593.1 637.1h6M596.1 634.1v6M590.8 627.9h6M593.8 624.9v6M588.5 618.7h6M591.5 615.7v6M586.3 609.4h6M589.3 606.4v6M584 600.2h6M587 597.2v6M581.7 591h6M584.7 588v6M579.5 581.8h6M582.5 578.8v6M577.2 572.5h6M580.2 569.5v6M574.9 563.3h6M577.9 560.3v6M572.7 554.1h6M575.7 551.1v6M570.4 544.9h6M573.4 541.9v6M568.1 535.6h6M571.1 532.6v6M565.8 526.4h6M568.8 523.4v6M563.6 517.2h6M566.6 514.2v6M561.3 508h6M564.3 505v6M559 498.7h6M562 495.7v6M556.8 489.5h6M559.8 486.5v6M554.5 480.3h6M557.5 477.3v6M552.2 471.1h6M555.2 468.1v6M549.9 461.8h6M552.9 458.8v6M547.7 452.6h6M550.7 449.6v6M545.4 443.4h6M548.4 440.4v6M543.1 434.2h6M546.1 431.2v6M540.9 424.9h6M543.9 421.9v6M538.6 415.7h6M541.6 412.7v6M536.3 406.5h6M539.3 403.5v6M534.1 397.3h6M537.1 394.3v6M700.5 1041h6M703.5 1038v6M698.1 1031.5h6M701.1 1028.5v6M695.6 1022h6M698.6 1019v6M693.2 1012.5h6M696.2 1009.5v6M690.7 1003h6M693.7 1000v6M688.3 993.5h6M691.3 990.5v6M685.8 984.1h6M688.8 981.1v6M683.4 974.6h6M686.4 971.6v6M681 965.1h6M684 962.1v6M678.5 955.6h6M681.5 952.6v6M676.1 946.1h6M679.1 943.1v6M673.6 936.6h6M676.6 933.6v6M671.2 927.1h6M674.2 924.1v6M668.7 917.6h6M671.7 914.6v6M666.3 908.1h6M669.3 905.1v6M663.9 898.6h6M666.9 895.6v6M661.4 889.1h6M664.4 886.1v6M659 879.7h6M662 876.7v6M656.5 870.2h6M659.5 867.2v6M654.1 860.7h6M657.1 857.7v6M651.6 851.2h6M654.6 848.2v6M649.2 841.7h6M652.2 838.7v6M646.8 832.2h6M649.8 829.2v6M644.3 822.7h6M647.3 819.7v6M641.9 813.2h6M644.9 810.2v6M639.4 803.7h6M642.4 800.7v6M637 794.2h6M640 791.2v6M634.5 784.8h6M637.5 781.8v6M632.1 775.3h6M635.1 772.3v6M629.7 765.8h6M632.7 762.8v6M627.2 756.3h6M630.2 753.3v6M624.8 746.8h6M627.8 743.8v6M622.3 737.3h6M625.3 734.3v6M619.9 727.8h6M622.9 724.8v6M617.4 718.3h6M620.4 715.3v6M615 708.8h6M618 705.8v6M612.6 699.3h6M615.6 696.3v6M610.1 689.8h6M613.1 686.8v6M607.7 680.4h6M610.7 677.4v6M605.2 670.9h6M608.2 667.9v6M602.8 661.4h6M605.8 658.4v6M600.3 651.9h6M603.3 648.9v6M597.9 642.4h6M600.9 639.4v6M595.5 632.9h6M598.5 629.9v6M593 623.4h6M596 620.4v6M590.6 613.9h6M593.6 610.9v6M588.1 604.4h6M591.1 601.4v6M585.7 594.9h6M588.7 591.9v6M583.2 585.4h6M586.2 582.4v6M580.8 576h6M583.8 573v6M578.4 566.5h6M581.4 563.5v6M575.9 557h6M578.9 554v6M573.5 547.5h6M576.5 544.5v6M571 538h6M574 535v6M568.6 528.5h6M571.6 525.5v6M566.1 519h6M569.1 516v6M563.7 509.5h6M566.7 506.5v6M561.3 500h6M564.3 497v6M558.8 490.5h6M561.8 487.5v6M556.4 481.1h6M559.4 478.1v6M553.9 471.6h6M556.9 468.6v6M551.5 462.1h6M554.5 459.1v6M549 452.6h6M552 449.6v6M546.6 443.1h6M549.6 440.1v6M544.2 433.6h6M547.2 430.6v6M541.7 424.1h6M544.7 421.1v6M539.3 414.6h6M542.3 411.6v6M536.8 405.1h6M539.8 402.1v6" stroke="#000" stroke-width="2.1" fill="none"/>
<text transform="matrix(1,0,0,1.045,199.3,1063)" text-anchor="end" class="tk">0.0</text>
<text transform="matrix(1,0,0,1.045,199.3,811.3)" text-anchor="end" class="tk">0.5</text>
<text transform="matrix(1,0,0,1.045,199.3,561.6)" text-anchor="end" class="tk">1.0</text>
<text transform="matrix(1,0,0,1.045,199.3,309.5)" text-anchor="end" class="tk">1.5</text>
<text transform="matrix(1,0,0,1.045,199.3,61)" text-anchor="end" class="tk">2.0</text>
<text transform="matrix(1,0,0,1.045,231.9,1124)" text-anchor="middle" class="tk">200</text>
<text transform="matrix(1,0,0,1.045,455.9,1124)" text-anchor="middle" class="tk">300</text>
<text transform="matrix(1,0,0,1.045,679.9,1124)" text-anchor="middle" class="tk">400</text>
<text transform="matrix(1,0,0,1.045,903.9,1124)" text-anchor="middle" class="tk">500</text>
<text transform="matrix(1,0,0,1.045,1127.8,1124)" text-anchor="middle" class="tk">600</text>
<text transform="matrix(1,0,0,1.045,1351.8,1124)" text-anchor="middle" class="tk">700</text>
<text transform="matrix(1,0,0,1.045,1575.8,1124)" text-anchor="middle" class="tk">800</text>
<line x1="1166" y1="159.6" x2="1270" y2="159.6" stroke="#000000" stroke-width="6" stroke-linecap="round"/>
<text transform="matrix(1,0,0,1.04,1286,175.9)" class="lg">P25</text>
<line x1="1166" y1="233.7" x2="1270" y2="233.7" stroke="#ff0000" stroke-width="6" stroke-linecap="round"/>
<text transform="matrix(1,0,0,1.04,1286,250)" class="lg">HA-165</text>
<line x1="1166" y1="307.8" x2="1270" y2="307.8" stroke="#0000ff" stroke-width="6" stroke-linecap="round"/>
<text transform="matrix(1,0,0,1.04,1286,324.1)" class="lg">NA-185</text>
<line x1="1166" y1="381.9" x2="1270" y2="381.9" stroke="#008080" stroke-width="6" stroke-linecap="round"/>
<text transform="matrix(1,0,0,1.04,1286,398.2)" class="lg">NA-165</text>
<line x1="1166" y1="456" x2="1270" y2="456" stroke="#ff00ff" stroke-width="6" stroke-linecap="round"/>
<text transform="matrix(1,0,0,1.04,1286,472.3)" class="lg">NA-145</text>

<text class="xl" x="640" y="1212">Wavelength (nm)</text>
<text class="yl" transform="translate(82,848.5) rotate(-90)">Absorbance (a.u.)</text>
</svg>
</body></html>
